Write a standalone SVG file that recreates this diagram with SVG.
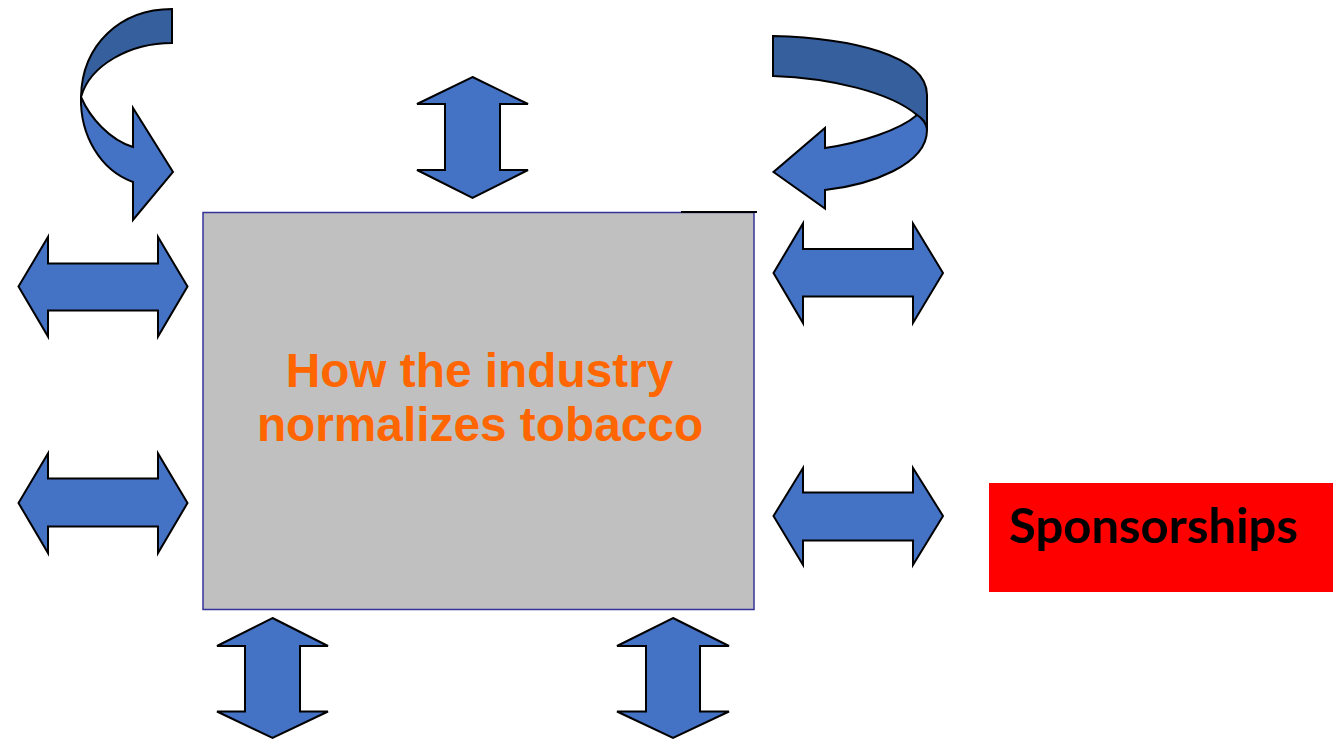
<svg xmlns="http://www.w3.org/2000/svg" width="1333" height="740" viewBox="0 0 1333 740">
<style>
.arr{fill:#4472C4;stroke:#000;stroke-width:2;stroke-linejoin:miter}
.back{fill:#365F9E;stroke:#000;stroke-width:2}
.main{font-family:"Liberation Sans",Arial,sans-serif;font-weight:bold;font-size:47.8px;fill:#FF6600}
.spon{font-family:Lato,"Open Sans",sans-serif;font-weight:bold;font-size:48px;fill:#000}
</style>
<rect width="1333" height="740" fill="#fff"/>
<g id="center-node">
<rect x="203" y="212.5" width="551" height="397" fill="#C0C0C0" stroke="#333399" stroke-width="1.5"/>
<line x1="681" y1="212" x2="757" y2="212" stroke="#000" stroke-width="2"/>
<text class="main" x="479.5" y="387" text-anchor="middle">How the industry</text>
<text class="main" x="480" y="441" text-anchor="middle">normalizes tobacco</text>
</g>
<g id="sponsorships">
<rect x="989" y="483" width="344" height="109" fill="#FF0000"/>
<text class="spon" x="1009" y="543" textLength="289" lengthAdjust="spacingAndGlyphs">Sponsorships</text>
</g>
<g id="connectors">
<polygon class="arr" points="472.5,77 528,104 500,104 500,170 528,170 472.5,198 417,170 445,170 445,104 417,104"/>
<polygon class="arr" points="272.5,618 328,646 300,646 300,711.5 328,711.5 272.5,738 217,711.5 245,711.5 245,646 217,646"/>
<polygon class="arr" points="673,618 729,646 700,646 700,711.5 729,711.5 673,738 617,711.5 646,711.5 646,646 617,646"/>
<polygon class="arr" points="18.5,286.5 48,237 48,263.5 158,263.5 158,237 187.5,286.5 158,336.5 158,310.5 48,310.5 48,336.5"/>
<polygon class="arr" points="18.5,503 48,453.5 48,478.5 158,478.5 158,453.5 187.5,503 158,553 158,526.5 48,526.5 48,553"/>
<polygon class="arr" points="773.5,273 803,223.5 803,249 913,249 913,223.5 943,273 913,323 913,296.5 803,296.5 803,323"/>
<polygon class="arr" points="773.5,516 803,468 803,492.5 913,492.5 913,468 943,516 913,565 913,540.5 803,540.5 803,565"/>
<path class="back" d="M172,9 L172,43 C130,43 90,65 81,97 C82,45 120,9 172,9 Z"/>
<path class="arr" d="M81,97 C90,118 110,140 133,147 L133,108 L173,172 L133,220 L133,182 C100,170 80,135 81,97 Z"/>
<path class="back" d="M773,36 C850,38 927,55 927,95 L927,130 C927,124 922,118 917,115 C890,92 830,78 773,76 Z"/>
<path class="arr" d="M917,115 C900,130 860,143 825,148 L825,128 L773.5,172 L825,208.5 L825,190 C870,185 927,165 927,130 C927,124 922,118 917,115 Z"/>
</g>
</svg>
